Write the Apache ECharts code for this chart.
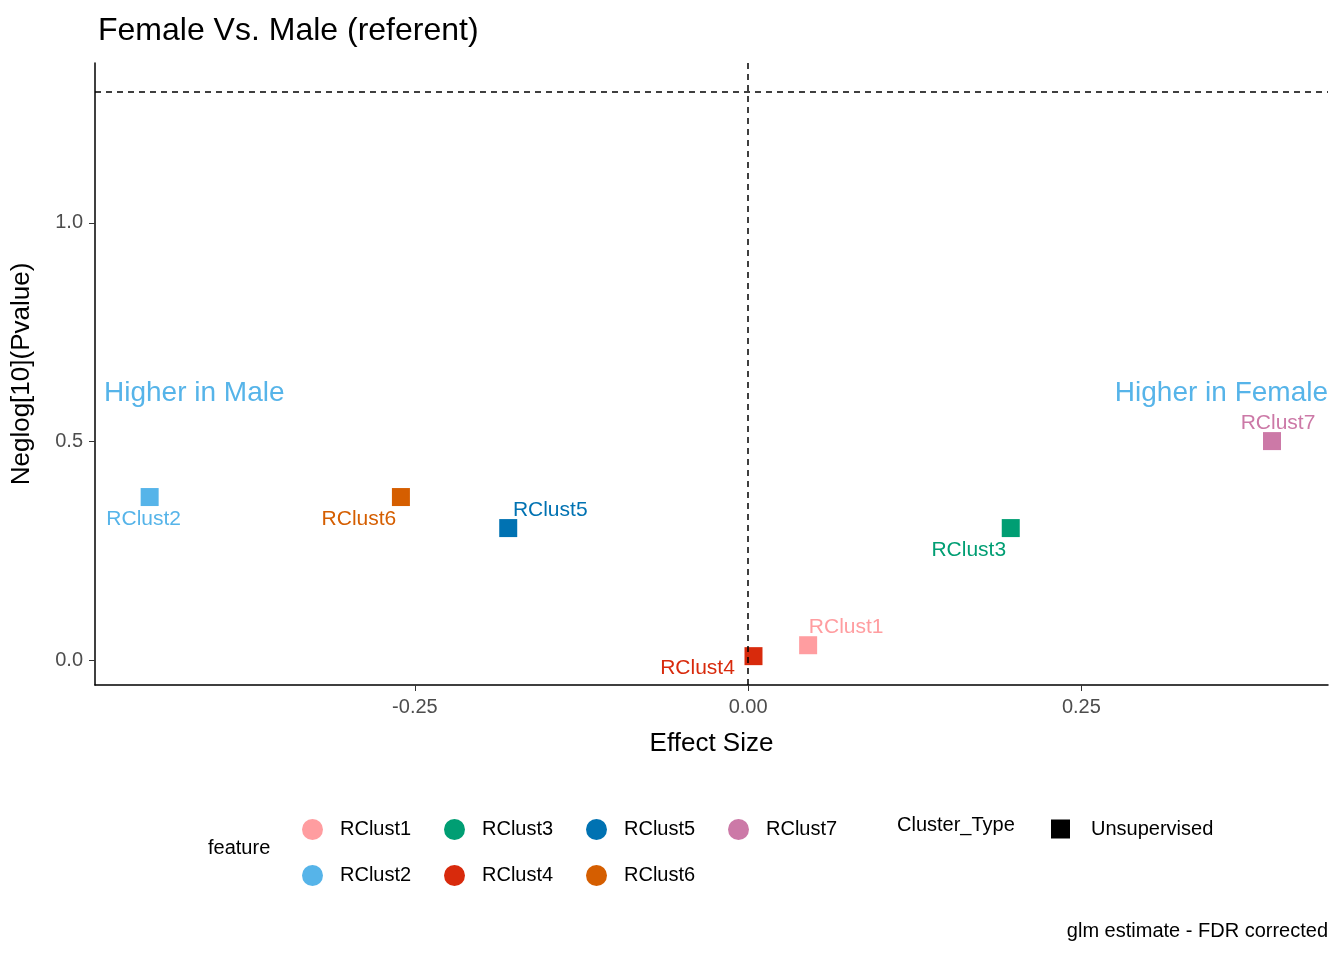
<!DOCTYPE html>
<html><head><meta charset="utf-8">
<script src="https://cdn.jsdelivr.net/npm/echarts@6/dist/echarts.min.js"></script>
<style>body{margin:0}#c{width:1344px;height:960px}</style></head>
<body><div id="c"></div>
<script>
var names = ['RClust1','RClust2','RClust3','RClust4','RClust5','RClust6','RClust7'];
var effect = [0.045, -0.449, 0.197, 0.004, -0.180, -0.2605, 0.393];
var neglogp = [0.034, 0.373, 0.302, 0.009, 0.302, 0.373, 0.501];
var colors = ['#FF9DA0','#56B4E9','#009E73','#D82A0C','#0072B2','#D55E00','#CC79A7'];
var labelPos = [[38,-18],[-6,22],[-42,22],[-56,12],[42,-18],[-42,22],[6,-18]];
var xTicks = [-0.25, 0, 0.25];
var yTicks = [0, 0.5, 1.0];
var pCut = 1.301;

var font = 'Arial, Liberation Sans, sans-serif';
var series = names.map(function(n,i){
  return {
    name:n, type:'scatter', symbol:'rect', symbolSize:18,
    itemStyle:{color:colors[i], opacity:1},
    data:[[effect[i], neglogp[i]]],
    label:{show:true, formatter:n, color:colors[i], fontSize:21, fontFamily:font,
      position:'inside', offset:labelPos[i]}
  };
});
series.push({
  name:'Unsupervised', type:'scatter', symbol:'rect', data:[], itemStyle:{color:'#000', opacity:1},
  markLine:{silent:true, symbol:'none', label:{show:false},
    lineStyle:{type:[6,5], color:'#000', width:1.5},
    data:[{xAxis:0},{yAxis:pCut}]}
});

var legends = [];
var cols = [[0,2,4,6],[1,3,5]];
cols.forEach(function(row,r){
  row.forEach(function(idx,c){
    legends.push({data:[{name:names[idx], icon:'circle', itemStyle:{opacity:1}}], left:297+c*142, top:814+r*46,
      itemWidth:21, itemHeight:21, itemGap:0, textStyle:{fontSize:20, color:'#000', fontFamily:font, padding:[0,0,0,12]}});
  });
});
legends.push({data:[{name:'Unsupervised', icon:'rect', itemStyle:{opacity:1}}], left:1046, top:814, itemWidth:19, itemHeight:19,
  textStyle:{fontSize:20, color:'#000', fontFamily:font, padding:[0,0,0,16]}});

var chart = echarts.init(document.getElementById('c'));
chart.setOption({
  animation:false,
  textStyle:{fontFamily:font},
  title:{text:'Female Vs. Male (referent)', left:93, top:10, textStyle:{fontSize:32, fontWeight:'normal', color:'#000', fontFamily:font}},
  grid:{left:95, right:16, top:63, bottom:275},
  legend:legends,
  xAxis:{type:'value', min:-0.49, max:0.435, name:'Effect Size', nameLocation:'middle', nameGap:46,
    nameTextStyle:{fontSize:26, color:'#000'},
    splitLine:{show:false},
    axisLine:{onZero:false, lineStyle:{color:'#000', width:1.5}},
    axisTick:{customValues:xTicks, length:6, lineStyle:{color:'#333'}},
    axisLabel:{customValues:xTicks, fontSize:20, color:'#4d4d4d', margin:12, formatter:function(v){return v.toFixed(2);}}},
  yAxis:{type:'value', min:-0.057, max:1.366, name:'Neglog[10](Pvalue)', nameLocation:'middle', nameGap:60,
    nameTextStyle:{fontSize:26, color:'#000'},
    splitLine:{show:false},
    axisLine:{show:true, onZero:false, lineStyle:{color:'#000', width:1.5}},
    axisTick:{show:true, customValues:yTicks, length:6, lineStyle:{color:'#333'}},
    axisLabel:{customValues:yTicks, fontSize:20, color:'#4d4d4d', margin:12, formatter:function(v){return v.toFixed(1);}}},
  graphic:[
    {type:'text', left:104, top:379, style:{text:'Higher in Male', fill:'#56B4E9', font:'28px '+font}},
    {type:'text', right:16, top:379, style:{text:'Higher in Female', fill:'#56B4E9', font:'28px '+font}},
    {type:'text', left:208, top:838, style:{text:'feature', font:'20px '+font, fill:'#000'}},
    {type:'text', left:897, top:815, style:{text:'Cluster_Type', font:'20px '+font, fill:'#000'}},
    {type:'text', right:16, top:921, style:{text:'glm estimate - FDR corrected', font:'20px '+font, fill:'#000'}}
  ],
  series:series
});
</script></body></html>
